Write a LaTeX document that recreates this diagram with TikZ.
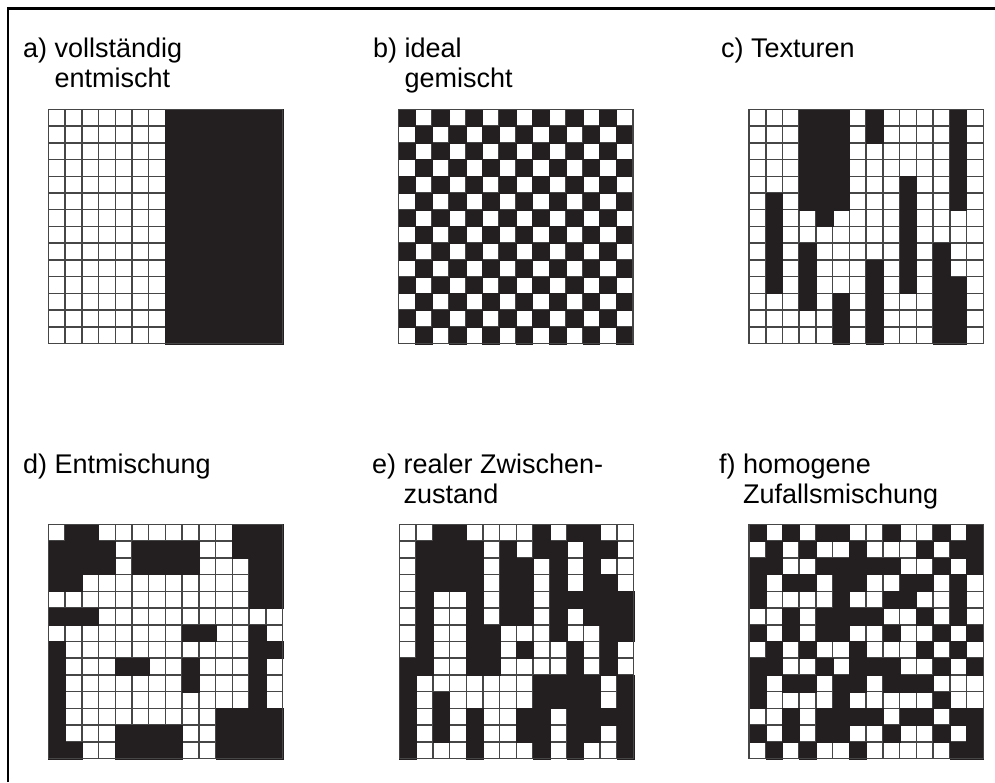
\documentclass[tikz,border=0pt]{standalone}
\usepackage{fontspec}
\setmainfont{Liberation Sans}
\definecolor{ink}{RGB}{35,31,32}
\definecolor{gline}{RGB}{70,70,70}
\tikzset{
  blk/.style={fill=ink, draw=ink, line width=0.3pt},
  gl/.style={draw=gline, line width=1.5pt},
  lbl/.style={anchor=base west, inner sep=0pt, align=left, font=\fontsize{27}{30}\selectfont},
  framestyle/.style={line width=2.5pt, draw=black},
}
\newcommand{\cellgrid}{\fill[white] (0,0) rectangle (14,14);
  \foreach \i in {0,...,14}{\draw[gl] (\i,0)--(\i,14); \draw[gl] (0,\i)--(14,\i);}}
\newcommand{\blackrows}[1]{\foreach \r/\cs in {#1}{\foreach \c in \cs {\fill[blk] (\c,\r) rectangle ++(1,1);}}}
\newcommand{\gridborder}{\draw[gl] (0,0) rectangle (14,14);}
\begin{document}
\begin{tikzpicture}[x=1pt, y=-1pt]
\useasboundingbox (0,0) rectangle (995,782);
\fill[white] (0,0) rectangle (995,782);
% frame
\coordinate (fbl) at (7.8,782);
\coordinate (ftr) at (995,8.3);
\draw[framestyle] (fbl) |- (ftr);

% labels (anchor = baseline of the last line)
\node[lbl] (la) at (23,87) {a) vollständig\\\phantom{a) }entmischt};
\node[lbl] (lb) at (373,87) {b) ideal\\\phantom{b) }gemischt};
\node[lbl] (lc) at (721,57) {c) Texturen};
\node[lbl] (ld) at (23,473) {d) Entmischung};
\node[lbl] (le) at (372,503) {e) realer Zwischen-\\\phantom{e) }zustand};
\node[lbl] (lf) at (719,503) {f) homogene\\\phantom{f) }Zufallsmischung};

% a) vollstaendig entmischt
\begin{scope}[xshift=48.3pt, yshift=-109.3pt, x=16.74pt, y=-16.74pt]
  \cellgrid
  \fill[blk] (7,0) rectangle (14,14);
  \gridborder
\end{scope}

% b) ideal gemischt
\begin{scope}[xshift=398.7pt, yshift=-109.3pt, x=16.74pt, y=-16.74pt]
  \cellgrid
  \foreach \r in {0,...,13}{
    \foreach \k in {0,...,6}{
      \pgfmathtruncatemacro{\cc}{2*\k+mod(\r,2)}
      \fill[blk] (\cc,\r) rectangle ++(1,1);
    }
  }
  \gridborder
\end{scope}

% c) Texturen
\begin{scope}[xshift=749pt, yshift=-109.3pt, x=16.74pt, y=-16.74pt]
  \cellgrid
  \blackrows{0/{3,4,5,7,12},1/{3,4,5,7,12},2/{3,4,5,12},3/{3,4,5,12},
    4/{3,4,5,9,12},5/{1,3,4,5,9,12},6/{1,4,9},7/{1,9},8/{1,3,9,11},
    9/{1,3,7,9,11},10/{1,3,7,9,11,12},11/{3,5,7,11,12},12/{5,7,11,12},13/{5,7,11,12}}
  \gridborder
\end{scope}

% d) Entmischung
\begin{scope}[xshift=48.3pt, yshift=-524.3pt, x=16.74pt, y=-16.74pt]
  \cellgrid
  \blackrows{0/{1,2,11,12,13},1/{0,1,2,3,5,6,7,8,11,12,13},2/{0,1,2,3,5,6,7,8,12,13},
    3/{0,1,12,13},4/{12,13},5/{0,1,2},6/{8,9,12},7/{0,12,13},8/{0,4,5,8,12},
    9/{0,8,12},10/{0,12},11/{0,10,11,12,13},12/{0,4,5,6,7,10,11,12,13},
    13/{0,1,4,5,6,7,10,11,12,13}}
  \gridborder
\end{scope}

% e) realer Zwischenzustand
\begin{scope}[xshift=399.3pt, yshift=-524.3pt, x=16.74pt, y=-16.74pt]
  \cellgrid
  \blackrows{0/{2,3,8,10,11},1/{1,2,3,4,6,8,9,11,12},2/{1,2,3,4,6,7,9,11},
    3/{1,2,3,4,6,7,9,11,12},4/{1,4,6,7,9,10,11,12,13},5/{1,4,6,7,9,11,12,13},
    6/{1,4,5,9,12,13},7/{1,4,5,7,10,12},8/{0,1,4,5,10,12},9/{0,8,9,10,11,13},
    10/{0,2,8,9,10,11,13},11/{0,2,4,7,8,10,11,12,13},12/{0,2,4,7,8,10,11,13},
    13/{0,4,8,10,13}}
  \gridborder
\end{scope}

% f) homogene Zufallsmischung
\begin{scope}[xshift=749pt, yshift=-524.3pt, x=16.74pt, y=-16.74pt]
  \cellgrid
  \blackrows{0/{0,2,4,5,8,11,13},1/{1,3,6,10,12,13},2/{0,1,4,5,6,7,8,11,13},
    3/{0,2,3,5,6,9,10,12},4/{0,5,8,9,12},5/{2,4,5,6,7,10,12},6/{0,2,4,5,8,11,13},
    7/{1,3,6,10,12},8/{0,1,4,6,7,8,11,13},9/{0,2,3,5,6,8,9,10},10/{0,5,11},
    11/{2,4,5,6,7,9,10,12,13},12/{0,2,4,5,8,11,13},13/{1,3,6,12,13}}
  \gridborder
\end{scope}
\end{tikzpicture}
\end{document}
